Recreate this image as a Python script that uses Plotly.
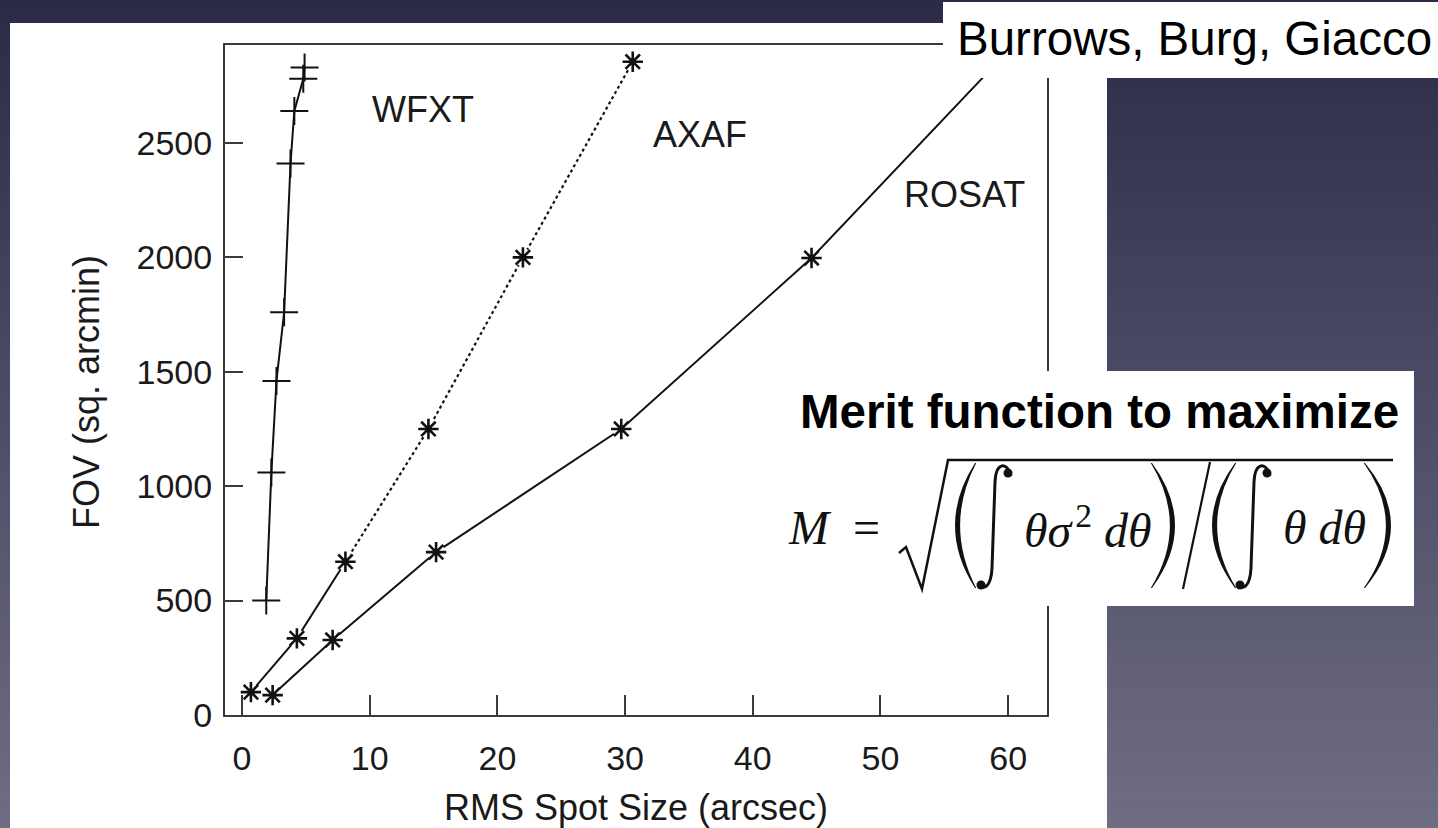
import plotly.graph_objects as go

W, H = 1438, 828

# ---------------- data ----------------
wfxt_x = [1.9, 2.3, 2.7, 3.3, 3.8, 4.1, 4.8, 4.9]
wfxt_y = [500, 1060, 1460, 1760, 2410, 2640, 2780, 2830]

axaf_x = [0.7, 4.3, 8.1, 14.6, 22.0, 30.6]
axaf_y = [100, 335, 670, 1250, 2000, 2855]
axaf_solid_n = 3  # first segments drawn solid, the rest dotted

rosat_x = [2.4, 7.1, 15.2, 29.7, 44.6, 60.3]
rosat_y = [87, 328, 712, 1250, 1997, 2920]

x_ticks = [0, 10, 20, 30, 40, 50, 60]
y_ticks = [0, 500, 1000, 1500, 2000, 2500]

series_labels = ["WFXT", "AXAF", "ROSAT"]
label_pos_x = [14.2, 35.9, 56.6]
label_pos_y = [2646, 2537, 2275]

x_title = "RMS Spot Size (arcsec)"
y_title = "FOV (sq. arcmin)"
credit = "Burrows, Burg, Giacco"
merit_title = "Merit function to maximize"


def X(p):
    return p / W


def Y(p):
    return 1 - p / H


INK = "#111111"
fig = go.Figure()

# ROSAT (solid line with gaps around stars)
fig.add_trace(go.Scatter(x=rosat_x, y=rosat_y, mode="lines+markers",
                         line=dict(color=INK, width=2),
                         marker=dict(color="white", size=18, line=dict(width=0)),
                         hoverinfo="skip", showlegend=False))
# AXAF solid part
fig.add_trace(go.Scatter(x=axaf_x[:axaf_solid_n], y=axaf_y[:axaf_solid_n], mode="lines+markers",
                         line=dict(color=INK, width=2),
                         marker=dict(color="white", size=18, line=dict(width=0)),
                         hoverinfo="skip", showlegend=False))
# AXAF dotted part
fig.add_trace(go.Scatter(x=axaf_x[axaf_solid_n - 1:], y=axaf_y[axaf_solid_n - 1:], mode="lines+markers",
                         line=dict(color=INK, width=2.2, dash="dot"),
                         marker=dict(color="white", size=18, line=dict(width=0)),
                         hoverinfo="skip", showlegend=False))
# star markers
fig.add_trace(go.Scatter(x=rosat_x + axaf_x, y=rosat_y + axaf_y, mode="markers",
                         marker=dict(symbol="asterisk-open", size=17, color=INK,
                                     line=dict(color=INK, width=2.6)),
                         hoverinfo="skip", showlegend=False))
# WFXT
fig.add_trace(go.Scatter(x=wfxt_x, y=wfxt_y, mode="lines+markers",
                         line=dict(color=INK, width=2),
                         marker=dict(symbol="cross-thin-open", size=20, color=INK,
                                     line=dict(color=INK, width=2)),
                         hoverinfo="skip", showlegend=False))

shapes = []
# slide background gradient
n = 90
top = (44, 43, 71)
mid = (78, 77, 104)
bot = (110, 109, 131)
for i in range(n):
    t = (i + 0.5) / n
    if t < 0.5:
        a, b, u = top, mid, t / 0.5
    else:
        a, b, u = mid, bot, (t - 0.5) / 0.5
    c = tuple(int(round(a[k] + (b[k] - a[k]) * u)) for k in range(3))
    shapes.append(dict(type="rect", xref="paper", yref="paper",
                       x0=0, x1=1, y0=max(0, Y((i + 1) * H / n + 0.5)), y1=Y(i * H / n),
                       fillcolor="rgb(%d,%d,%d)" % c, line=dict(width=0), layer="below"))
# white scanned figure
shapes.append(dict(type="rect", xref="paper", yref="paper", x0=X(10), x1=X(1107),
                   y0=0, y1=Y(23), fillcolor="white", line=dict(width=0), layer="below"))
# credit box
shapes.append(dict(type="rect", xref="paper", yref="paper", x0=X(943), x1=1,
                   y0=Y(78), y1=Y(2), fillcolor="white", line=dict(width=0), layer="above"))
# merit box
shapes.append(dict(type="rect", xref="paper", yref="paper", x0=X(700), x1=X(1414),
                   y0=Y(606), y1=Y(371), fillcolor="white", line=dict(width=0), layer="above"))


def paren(xt, yt, yb, xext, thick, left):
    ym = (yt + yb) / 2
    c_out = 2 * xext - xt
    inner = xext + thick if left else xext - thick
    c_in = 2 * inner - xt
    d = 1.2 if left else -1.2
    p = (f"M {X(xt)},{Y(yt)} Q {X(c_out)},{Y(ym)} {X(xt)},{Y(yb)} "
         f"L {X(xt + d)},{Y(yb)} Q {X(c_in)},{Y(ym)} {X(xt + d)},{Y(yt)} Z")
    return dict(type="path", xref="paper", yref="paper", path=p,
                fillcolor=INK, line=dict(width=0), layer="above")


shapes.append(paren(975, 463, 588, 955, 4.5, True))
shapes.append(paren(1152, 463, 588, 1175, 4.5, False))
shapes.append(paren(1235, 463, 588, 1212, 4.5, True))
shapes.append(paren(1365, 463, 588, 1391, 4.5, False))


def integral(dx):
    pts = [(1011, 476), (1007, 461), (996, 462), (995, 482), (992, 568), (991, 588), (983, 591), (978, 583)]
    q = [(X(a + dx), Y(b)) for a, b in pts]
    p = (f"M {q[0][0]},{q[0][1]} C {q[1][0]},{q[1][1]} {q[2][0]},{q[2][1]} {q[3][0]},{q[3][1]} "
         f"L {q[4][0]},{q[4][1]} C {q[5][0]},{q[5][1]} {q[6][0]},{q[6][1]} {q[7][0]},{q[7][1]}")
    out = [dict(type="path", xref="paper", yref="paper", path=p,
                line=dict(color=INK, width=3), layer="above")]
    for cx, cy in [(1008 + dx, 473), (981 + dx, 585)]:
        out.append(dict(type="circle", xref="paper", yref="paper",
                        x0=X(cx - 4.5), x1=X(cx + 4.5), y0=Y(cy + 4.5), y1=Y(cy - 4.5),
                        fillcolor=INK, line=dict(width=0), layer="above"))
    return out


shapes += integral(0)
shapes += integral(259)
# radical sign and vinculum
rad = [(899, 553), (906, 547), (922, 589), (948, 460), (1393, 460)]
shapes.append(dict(type="path", xref="paper", yref="paper",
                   path="M " + " L ".join(f"{X(a)},{Y(b)}" for a, b in rad),
                   line=dict(color=INK, width=2.5), layer="above"))
# division slash
shapes.append(dict(type="line", xref="paper", yref="paper", x0=X(1210), y0=Y(462),
                   x1=X(1183), y1=Y(589), line=dict(color=INK, width=2.2), layer="above"))

ann = []


def note(text, px_, py_, font, **kw):
    d = dict(text=text, x=X(px_), y=Y(py_), xref="paper", yref="paper", showarrow=False,
             xanchor="center", yanchor="middle", font=font)
    d.update(kw)
    ann.append(d)


for t, ax_, ay_ in zip(series_labels, label_pos_x, label_pos_y):
    ann.append(dict(text=t, x=ax_, y=ay_, xref="x", yref="y", showarrow=False,
                    xanchor="center", yanchor="middle",
                    font=dict(family="Liberation Sans", size=36, color="#1a1a1a")))
SANS = dict(family="Liberation Sans", size=36, color="#1a1a1a")
note(x_title, 636, 807, SANS)
note(y_title, 86, 392, SANS, textangle=-90)
note(credit, 1434, 39, dict(family="Liberation Sans", size=47.5, color="black"), xanchor="right")
note("<b>" + merit_title + "</b>", 1099, 411, dict(family="Liberation Sans", size=47.5, color="black"))
SER = dict(family="Liberation Serif", size=48, color=INK)
note("<i>M</i>", 810, 527, SER)
note("=", 866, 527, SER)
note("<i>θσ</i>\u200a<sup>2</sup> <i>dθ</i>", 1088, 527, SER)
note("<i>θ dθ</i>", 1324, 527, SER)

axis_common = dict(showgrid=False, zeroline=False, showline=True, mirror=True, automargin=False,
                   linecolor="#3a3a3a", linewidth=2, ticks="inside", tickcolor="#3a3a3a",
                   tickwidth=1.6, tickfont=dict(family="Liberation Sans", size=34, color="#1a1a1a"))

fig.update_layout(
    width=W, height=H, margin=dict(l=0, r=0, t=0, b=0, pad=0, autoexpand=False),
    paper_bgcolor="rgb(60,59,86)", plot_bgcolor="rgba(0,0,0,0)",
    xaxis=dict(domain=[X(225), X(1047)], range=[-1.33, 63.04], tickvals=x_ticks,
               ticklen=20, ticklabelstandoff=12, **axis_common),
    yaxis=dict(domain=[Y(715), Y(45)], range=[0, 2928], tickvals=y_ticks,
               ticklen=18, ticklabelstandoff=4, **axis_common),
    shapes=shapes, annotations=ann, showlegend=False,
)

fig.write_html("out.html")
